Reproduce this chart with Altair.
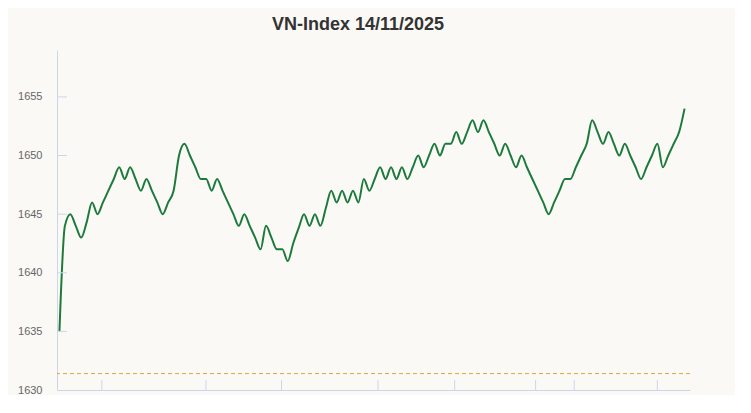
import altair as alt
import pandas as pd

TITLE = "VN-Index 14/11/2025"

# Index values (one point per sampling step)
values = [
    1635, 1644, 1645, 1644, 1643, 1644.3, 1646, 1645, 1646, 1647,
    1648, 1649, 1648, 1649, 1648, 1647, 1648, 1647, 1646, 1645,
    1646, 1647, 1650, 1651, 1650, 1649, 1648, 1648, 1647, 1648,
    1647, 1646, 1645, 1644, 1645, 1644, 1643, 1642, 1644, 1643,
    1642, 1642, 1641, 1642.5, 1643.8, 1645, 1644, 1645, 1644, 1645.5,
    1647, 1646, 1647, 1646, 1647, 1646, 1648, 1647, 1648, 1649,
    1648, 1649, 1648, 1649, 1648, 1649, 1650, 1649, 1650, 1651,
    1650, 1651, 1651, 1652, 1651, 1652, 1653, 1652, 1653, 1652,
    1651, 1650, 1651, 1650, 1649, 1650, 1649, 1648, 1647, 1646,
    1645, 1646, 1647, 1648, 1648, 1649, 1650, 1651, 1653, 1652,
    1651, 1652, 1651, 1650, 1651, 1650, 1649, 1648, 1649, 1650,
    1651, 1649, 1650, 1651, 1652, 1654,
]
steps = list(range(len(values)))

ref_level = [1631.4]
y_tick_values = [1630, 1635, 1640, 1645, 1650, 1655]
x_tick_positions = [7.8, 26.95, 40.85, 58.6, 72.7, 87.6, 94.7, 110.0]
x_domain = [-0.45, 116.0]
y_domain = [1630, 1659]

W, H = 633, 340
AXIS_COLOR = "#ccd6eb"
FONT = "Liberation Sans, Arial, sans-serif"

xs = alt.Scale(domain=x_domain, nice=False, zero=False)
ys = alt.Scale(domain=y_domain, nice=False, zero=False)

x_axis = alt.Axis(labels=False, ticks=False, grid=False, domainColor=AXIS_COLOR,
                  domainWidth=1, title=None)
y_axis = alt.Axis(values=y_tick_values, format="d", ticks=False, tickSize=0,
                  grid=False, domainColor=AXIS_COLOR, domainWidth=1,
                  labelColor="#666666", labelFont=FONT, labelFontSize=11,
                  labelPadding=15, title=None)

df = pd.DataFrame({"t": steps, "v": values})

line = alt.Chart(df).mark_line(
    interpolate="monotone", color="#1e7a3c", strokeWidth=2
).encode(
    x=alt.X("t:Q", scale=xs, axis=x_axis),
    y=alt.Y("v:Q", scale=ys, axis=y_axis),
)

ref = alt.Chart(pd.DataFrame({"v": ref_level})).mark_rule(
    color="#e0a53c", strokeDash=[4, 3], strokeWidth=1
).encode(y=alt.Y("v:Q", scale=ys, axis=y_axis))

ytick = alt.Chart(pd.DataFrame({"v": y_tick_values[1:]})).mark_rule(
    color=AXIS_COLOR, strokeWidth=1
).encode(
    y=alt.Y("v:Q", scale=ys, axis=y_axis),
    x=alt.value(0), x2=alt.value(10),
)

xtick = alt.Chart(pd.DataFrame({"t": x_tick_positions})).mark_rule(
    color=AXIS_COLOR, strokeWidth=1
).encode(
    x=alt.X("t:Q", scale=xs, axis=x_axis),
    y=alt.value(H - 10), y2=alt.value(H),
)

chart = alt.layer(line, ref, ytick, xtick).properties(
    width=W,
    height=H,
    background="#faf9f6",
    padding={"left": 49, "top": 42, "right": 45, "bottom": 5},
    autosize=alt.AutoSizeParams(type="none"),
    title=alt.TitleParams(
        TITLE, font=FONT, fontSize=18, fontWeight="bold", color="#333333",
        anchor="middle", dx=-15.5, offset=2, baseline="alphabetic",
    ),
).configure_view(stroke=None)

chart.save("out.html", embed_options={"renderer": "svg", "actions": False})
